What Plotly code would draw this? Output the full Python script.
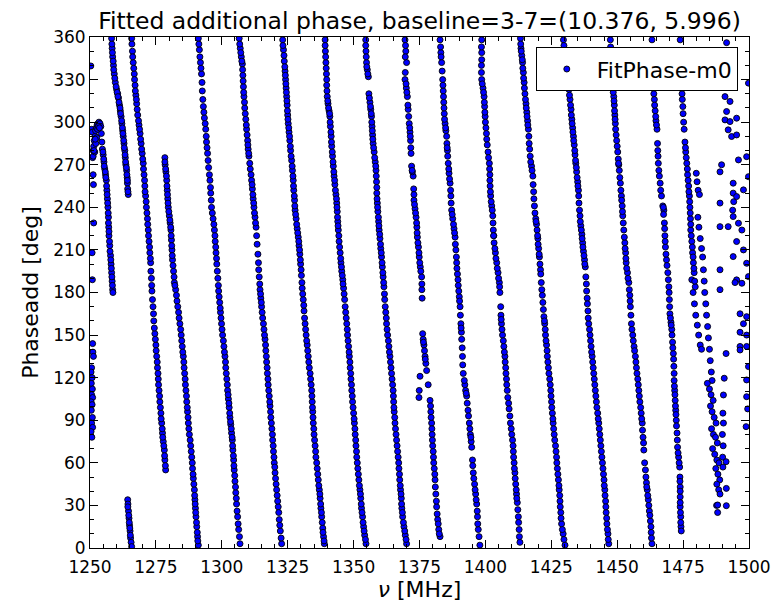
import plotly.graph_objects as go

# ---- data (frequency MHz, phase deg) ----
edge_scatter = [(1250.3,339.6),(1250.6,295),(1250.9,293),(1251.2,280),(1251.0,275),(1251.2,263),(1251.3,256),
    (1251.4,229),(1250.8,208),(1250.9,189),(1251.0,144),(1251.1,138),(1251.3,135),(1250.6,127),(1250.4,124),
    (1250.8,120),(1250.5,116),(1250.9,112),(1250.6,108),(1251.0,106),(1250.4,103),(1250.8,101),(1250.5,97),
    (1250.9,92),(1250.6,88),(1251.0,85),(1250.4,82),(1250.7,78)]

stripe_a = [(1251.2,276),(1251.4,283),(1251.6,287),(1251.9,290),(1252.1,294),(1252.4,296),(1252.7,298),(1253.0,299),
    (1253.4,300),(1253.8,299),(1254.1,297),(1254.3,292),(1252.2,285),(1251.8,279),(1252.6,289),(1254.5,286),
    (1254.7,281),(1255.0,277),(1255.3,272),(1255.6,267),(1255.9,263),(1256.2,259),(1256.4,252),(1256.6,246),
    (1256.8,240),(1257.0,233),(1257.1,226),(1257.2,220),(1257.5,213),(1257.8,206),(1258.0,200),(1258.2,194),
    (1258.4,188),(1258.6,182),(1258.7,180),
    (1254.9,279),(1255.2,274),(1255.4,269),(1255.8,265),(1256.0,261),(1256.3,255),(1256.5,249),(1256.7,243),
    (1256.9,236),(1257.0,229),(1257.2,223),(1257.4,216),(1257.6,209),(1257.9,203),(1258.1,197),(1258.3,191),
    (1258.5,185),(1252.9,295),(1253.2,297),(1253.6,296),(1252.0,288),(1251.5,280)]

stripe_b = [(1258.2,359),(1258.4,352),(1258.6,346),(1258.9,340),(1259.2,334),(1259.6,328),(1260.1,323),(1260.5,320),
    (1260.8,317),(1261.2,312),(1261.5,308),(1261.8,304),(1262.1,299),(1262.4,294),(1262.6,290),(1262.9,285),
    (1263.2,280),(1263.4,275),(1263.6,270),(1263.9,266),(1264.1,261),(1264.2,257),(1264.3,253),(1264.5,249),
    (1258.3,355),(1258.5,349),(1258.8,343),(1259.0,337),(1259.4,331),(1259.9,325),(1260.3,321),(1260.6,318),
    (1261.0,314),(1261.4,310),(1261.6,306),(1262.0,301),(1262.3,296),(1262.5,292),(1262.8,287),(1263.0,282),
    (1263.3,277),(1263.5,272),(1263.8,268),(1264.0,263),(1264.2,259),(1264.4,251)]

stripe_e = [(1264.3,34),(1264.4,31),(1264.6,26),(1264.8,21),(1265.0,16),(1265.2,12),(1265.4,7),(1265.6,4),(1265.8,1),
    (1264.35,29),(1264.7,23),(1264.9,18),(1265.1,14),(1265.3,9)]

stripe_c = [(1265.8,359),(1266.1,350),(1266.4,342),(1266.8,334),(1267.1,326),(1267.4,319),(1267.7,313),(1268.1,305),
    (1268.6,298),(1269.0,292),(1269.4,285),(1269.8,278),(1270.2,271),(1270.5,263),(1270.8,255),(1271.1,248),
    (1271.4,240),(1271.8,232),(1272.1,224),(1272.4,216),(1272.7,208),(1273.0,201),(1273.3,190),(1273.5,181),
    (1273.9,170),(1274.2,160),(1274.6,151),(1275.0,143),(1275.3,135),(1275.6,127),(1275.9,119),(1276.2,111),
    (1276.5,103),(1276.9,95),(1277.2,88),(1277.5,81),(1277.8,75),(1278.2,69),(1278.4,62),(1278.7,55),
    (1265.9,355),(1266.2,346),(1266.6,338),(1266.9,330),(1267.2,322),(1267.6,316),(1267.9,309),(1268.4,301),
    (1268.8,295),(1269.2,288),(1269.6,281),(1270.0,274),(1270.3,267),(1270.7,259),(1270.9,251),(1271.3,244),
    (1271.6,236),(1271.9,228),(1272.2,220),(1272.6,212),(1272.9,204),(1273.1,195),(1273.4,185),(1273.7,175),
    (1274.1,165),(1274.4,155),(1274.8,147),(1275.1,139),(1275.5,131),(1275.8,123),(1276.0,115),(1276.4,107),
    (1276.7,99),(1277.0,91),(1277.4,84),(1277.6,78),(1278.0,72),(1278.3,65),(1278.6,58)]

stripe_d = [(1278.4,275),(1278.5,270),(1278.8,265),(1279.1,259),(1279.3,252),(1279.5,246),(1279.7,240),(1280.1,234),
    (1280.4,229),(1280.7,224),(1280.9,217),(1281.1,210),(1281.3,203),(1281.7,195),(1282.0,187),(1282.5,182),
    (1283.0,174),(1283.6,166),(1284.1,158),(1284.6,150),(1285.0,142),(1285.4,135),(1285.7,127),(1286.1,119),
    (1286.4,111),(1286.7,103),(1287.0,96),(1287.3,88),(1287.7,80),(1288.2,72),(1288.6,64),(1288.9,56),
    (1289.2,49),(1289.6,41),(1289.8,34),(1290.0,28),(1290.2,22),(1290.5,15),(1290.8,8),(1291.1,2),
    (1278.4,272),(1278.7,267),(1279.0,262),(1279.2,255),(1279.4,249),(1279.6,243),(1279.9,237),(1280.3,231),
    (1280.6,226),(1280.8,220),(1281.0,213),(1281.2,206),(1281.5,199),(1281.9,191),(1282.2,185),(1282.8,178),
    (1283.3,170),(1283.8,162),(1284.4,154),(1284.8,146),(1285.2,138),(1285.6,131),(1285.9,123),(1286.2,115),
    (1286.6,107),(1286.9,99),(1287.2,92),(1287.5,84),(1288.0,76),(1288.4,68),(1288.8,60),(1289.1,52),
    (1289.4,45),(1289.7,37),(1289.9,31),(1290.1,25),(1290.4,18),(1290.7,11),(1290.9,5)]

stripe_f = [(1291.1,359),(1291.5,351),(1291.9,342),(1292.3,334),(1292.6,322),(1293.0,311),(1293.4,303),(1293.9,295),
    (1294.2,286),(1294.6,278),(1295.0,268),(1295.5,259),(1295.8,250),(1296.1,240),(1296.7,232),(1297.2,224),
    (1297.5,216),(1297.8,208),(1298.1,200),(1298.5,190),(1298.8,181),(1299.2,173),(1299.5,166),(1299.9,158),
    (1300.3,150),(1300.8,142),(1301.2,135),(1301.5,127),(1301.9,119),(1302.2,111),(1302.5,105),(1302.8,99),
    (1303.1,92),(1303.4,87),(1303.7,81),(1304.0,76),(1304.2,69),(1304.5,62),(1304.7,55),(1305.0,47),
    (1305.3,39),(1305.6,31),(1306.0,22),(1306.4,13),(1306.9,3),
    (1291.3,355),(1291.7,346),(1292.1,338),(1292.5,328),(1292.8,316),(1293.2,307),(1293.7,299),(1294.1,290),
    (1294.4,282),(1294.8,273),(1295.3,263),(1295.7,254),(1296.0,245),(1296.4,236),(1297.0,228),(1297.4,220),
    (1297.7,212),(1298.0,204),(1298.3,195),(1298.7,185),(1299.0,177),(1299.4,169),(1299.7,162),(1300.1,154),
    (1300.6,146),(1301.0,138),(1301.4,131),(1301.7,123),(1302.1,115),(1302.4,108),(1302.7,102),(1303.0,95),
    (1303.3,89),(1303.6,84),(1303.9,78),(1304.1,72),(1304.4,65),(1304.6,58),(1304.9,51),(1305.2,43),
    (1305.5,35),(1305.8,26),(1306.2,17),(1306.7,8)]

stripe_g = [(1306.6,359),(1307.0,352),(1307.4,346),(1307.8,341),(1308.0,333),(1308.2,325),(1308.4,318),(1308.7,310),
    (1309.1,302),(1309.4,295),(1309.8,287),(1310.0,281),(1310.3,276),(1310.8,267),(1311.3,259),(1311.6,253),
    (1311.9,246),(1312.2,240),(1312.6,233),(1313.0,226),(1313.4,214),(1313.9,201),(1314.2,191),(1314.5,182),
    (1314.8,176),(1315.1,170),(1315.5,162),(1316.0,154),(1316.4,147),(1316.7,139),(1317.0,131),(1317.3,123),
    (1317.6,115),(1318.0,107),(1318.3,100),(1318.6,92),(1319.0,84),(1319.3,76),(1319.6,68),(1319.9,60),
    (1320.2,53),(1320.6,45),(1321.0,37),(1321.4,29),(1321.8,20),(1322.2,12),(1322.7,3),
    (1306.8,355),(1307.2,349),(1307.6,343),(1307.9,337),(1308.1,329),(1308.3,321),(1308.6,314),(1308.9,306),
    (1309.3,298),(1309.6,291),(1309.9,284),(1310.2,278),(1310.6,271),(1311.1,263),(1311.5,256),(1311.8,249),
    (1312.1,243),(1312.4,236),(1312.8,229),(1313.2,220),(1313.7,207),(1314.0,196),(1314.4,186),(1314.7,179),
    (1315.0,173),(1315.3,166),(1315.8,158),(1316.2,150),(1316.6,143),(1316.9,135),(1317.2,127),(1317.5,119),
    (1317.8,111),(1318.2,103),(1318.5,96),(1318.8,88),(1319.2,80),(1319.5,72),(1319.8,64),(1320.1,57),
    (1320.4,49),(1320.8,41),(1321.2,33),(1321.6,25),(1322.0,16),(1322.5,7)]

stripe_h = [(1323.1,358),(1323.4,351),(1323.7,343),(1324.0,336),(1324.2,330),(1324.4,324),(1324.6,318),(1324.8,312),
    (1325.0,305),(1325.2,299),(1325.5,293),(1325.8,287),(1326.1,280),(1326.5,273),(1326.8,266),(1327.1,259),
    (1327.3,252),(1327.6,245),(1327.8,238),(1328.2,232),(1328.6,225),(1329.0,219),(1329.3,213),(1329.6,207),
    (1329.9,200),(1330.2,192),(1330.5,183),(1330.9,175),(1331.2,167),(1331.6,158),(1332.0,150),(1332.4,143),
    (1332.8,135),(1333.2,127),(1333.7,119),(1334.1,111),(1334.3,103),(1334.5,96),(1334.7,88),(1335.0,80),
    (1335.4,72),(1335.7,64),(1336.2,56),(1336.6,48),(1337.0,41),(1337.3,35),(1337.6,28),(1337.9,22),
    (1338.3,14),(1338.6,8),(1338.9,3),
    (1323.2,354),(1323.6,347),(1323.9,339),(1324.1,333),(1324.3,327),(1324.5,321),(1324.7,315),(1324.9,308),
    (1325.1,302),(1325.4,296),(1325.7,290),(1326.0,283),(1326.3,276),(1326.7,269),(1327.0,262),(1327.2,255),
    (1327.5,248),(1327.7,241),(1328.0,235),(1328.4,228),(1328.8,222),(1329.2,216),(1329.5,210),(1329.8,203),
    (1330.1,196),(1330.4,187),(1330.7,179),(1331.1,171),(1331.4,162),(1331.8,154),(1332.2,146),(1332.6,139),
    (1333.0,131),(1333.5,123),(1333.9,115),(1334.2,107),(1334.4,99),(1334.6,92),(1334.9,84),(1335.2,76),
    (1335.6,68),(1336.0,60),(1336.4,52),(1336.8,44),(1337.2,38),(1337.5,31),(1337.8,25),(1338.1,18),
    (1338.4,11),(1338.8,5)]

stripe_i = [(1339.2,358),(1339.3,350),(1339.5,342),(1339.7,334),(1339.8,326),(1340.0,318),(1340.3,313),(1340.7,308),
    (1341.0,304),(1341.2,297),(1341.5,290),(1341.7,283),(1342.0,276),(1342.3,269),(1342.6,262),(1342.9,256),
    (1343.3,249),(1343.6,243),(1343.8,237),(1344.0,230),(1344.2,224),(1344.5,216),(1344.9,208),(1345.2,201),
    (1345.5,195),(1345.9,189),(1346.2,183),(1346.6,175),(1347.0,166),(1347.4,158),(1347.7,150),(1348.1,142),
    (1348.4,135),(1348.7,127),(1349.0,119),(1349.3,111),(1349.6,103),(1350.0,95),(1350.3,88),(1350.6,80),
    (1350.9,72),(1351.2,64),(1351.6,56),(1352.0,48),(1352.4,41),(1352.7,35),(1353.0,28),(1353.4,22),
    (1353.8,15),(1354.2,9),(1354.7,3),
    (1339.2,354),(1339.4,346),(1339.6,338),(1339.8,330),(1339.9,322),(1340.2,315),(1340.5,310),(1340.9,306),
    (1341.1,300),(1341.4,293),(1341.6,286),(1341.9,279),(1342.2,272),(1342.5,265),(1342.8,259),(1343.1,252),
    (1343.5,246),(1343.7,240),(1343.9,233),(1344.1,227),(1344.4,220),(1344.7,212),(1345.1,204),(1345.4,198),
    (1345.7,192),(1346.0,186),(1346.4,179),(1346.8,170),(1347.2,162),(1347.6,154),(1347.9,146),(1348.3,138),
    (1348.6,131),(1348.9,123),(1349.2,115),(1349.5,107),(1349.8,99),(1350.2,91),(1350.5,84),(1350.8,76),
    (1351.1,68),(1351.4,60),(1351.8,52),(1352.2,44),(1352.6,38),(1352.9,31),(1353.2,25),(1353.6,18),
    (1354.0,12),(1354.5,6)]

stripe_j = [(1354.6,358),(1354.7,350),(1354.9,342),(1355.2,337),(1355.6,332),(1355.8,320),(1356.2,314),(1356.5,309),
    (1356.8,304),(1357.0,297),(1357.2,291),(1357.4,285),(1357.8,279),(1358.2,272),(1358.5,266),(1358.7,258),
    (1358.8,250),(1359.0,243),(1359.2,237),(1359.5,230),(1359.7,224),(1360.0,218),(1360.3,211),(1360.6,205),
    (1360.9,198),(1361.2,191),(1361.5,184),(1361.8,175),(1362.2,166),(1362.5,158),(1362.9,150),(1363.4,142),
    (1363.8,135),(1364.2,127),(1364.6,119),(1365.0,111),(1365.2,103),(1365.4,96),(1365.7,88),(1366.1,80),
    (1366.5,72),(1366.9,64),(1367.2,56),(1367.5,48),(1367.8,41),(1368.1,35),(1368.3,28),(1368.6,22),
    (1369.1,15),(1369.6,9),(1370.1,3),
    (1354.6,354),(1354.8,346),(1355.0,339),(1355.4,334),(1356.0,317),(1356.4,311),(1356.7,306),(1356.9,300),
    (1357.1,294),(1357.3,288),(1357.6,282),(1358.0,275),(1358.4,269),(1358.6,262),(1358.8,254),(1358.9,246),
    (1359.1,240),(1359.4,233),(1359.6,227),(1359.9,221),(1360.2,214),(1360.5,208),(1360.8,201),(1361.1,194),
    (1361.4,187),(1361.7,179),(1362.0,170),(1362.4,162),(1362.7,154),(1363.2,146),(1363.6,138),(1364.0,131),
    (1364.4,123),(1364.8,115),(1365.1,107),(1365.3,99),(1365.6,92),(1365.9,84),(1366.3,76),(1366.7,68),
    (1367.1,60),(1367.4,52),(1367.7,44),(1368.0,38),(1368.2,31),(1368.5,25),(1368.9,18),(1369.4,12),
    (1369.9,6)]

stripe_k = [(1369.5,358),(1369.8,350),(1370.1,342),(1369.6,335),(1369.5,330),(1370.0,324),(1370.4,318),(1370.7,309),
    (1371.1,299),(1371.4,293),(1371.6,287),(1371.8,278),(1372.0,269),(1372.6,262),(1372.8,253),(1372.9,245),
    (1373.3,239),(1373.7,233),(1374.0,226),(1374.2,219),(1374.6,212),(1374.9,205),(1375.3,198),(1375.8,191),
    (1375.9,182),(1376.0,176),(1376.2,151),(1376.7,143),(1377.1,135),(1377.4,130),(1377.7,125),(1375.2,121),
    (1374.9,111),(1374.8,106),(1378.3,115),(1379.0,104),(1379.3,96),(1379.6,88),(1379.8,80),(1380.0,72),
    (1380.3,64),(1380.6,56),(1380.9,48),(1381.2,38),(1381.5,29),(1381.9,20),(1382.3,13),(1382.8,8),
    (1369.7,354),(1370.2,321),(1370.9,304),(1371.5,290),(1372.3,265),(1373.1,242),(1373.9,229),(1374.4,215),
    (1375.1,201),(1376.4,147),(1376.9,139),(1379.4,92),(1379.9,76),(1380.4,60),(1381.0,43),(1381.7,24),
    (1382.5,10)]
stripe_k_more = [(1369.6,346),(1369.9,327),(1370.6,312),(1371.3,296),(1371.7,282),(1372.2,266),(1372.9,249),
    (1373.5,236),(1374.1,222),(1374.8,208),(1375.5,195),(1375.9,186),(1376.5,145),(1377.2,133),(1379.2,100),
    (1379.7,84),(1380.2,68),(1380.8,52),(1381.4,33),(1382.1,17)]

stripe_l = [(1382.8,358),(1383.1,349),(1383.4,342),(1383.8,330),(1384.0,322),(1384.2,314),(1384.4,306),(1384.7,299),
    (1385.0,294),(1385.3,290),(1385.6,280),(1385.9,271),(1386.2,264),(1386.6,257),(1386.9,248),(1387.2,238),
    (1387.6,232),(1388.1,225),(1388.5,219),(1388.8,210),(1389.1,201),(1389.4,193),(1389.7,185),(1390.1,177),
    (1390.4,170),(1390.7,158),(1391.0,147),(1391.3,135),(1391.6,123),(1392.2,115),(1392.9,107),(1393.4,97),
    (1393.9,88),(1394.3,80),(1394.8,71),(1395.1,62),(1395.4,53),(1395.9,45),(1396.3,38),(1396.7,31),
    (1397.0,22),(1397.3,13),(1397.9,2),
    (1383.0,353),(1383.6,336),(1384.1,318),(1384.5,302),(1385.4,285),(1385.7,276),(1386.4,260),(1387.0,243),
    (1387.9,228),(1388.6,214),(1389.2,197),(1389.9,181),(1390.5,164),(1390.9,152),(1391.4,129),(1392.5,111),
    (1393.1,102),(1394.1,84),(1394.6,75),(1395.6,49),(1396.5,34),(1397.1,17)]
stripe_l_more = [(1383.2,346),(1383.9,326),(1384.3,310),(1384.9,296),(1385.5,282),(1386.1,267),(1386.8,252),
    (1387.4,235),(1388.3,222),(1389.0,205),(1389.6,189),(1390.2,174),(1390.8,155),(1391.2,141),(1392.0,118),
    (1392.7,109),(1393.6,93),(1394.5,78),(1395.2,58),(1396.1,41),(1396.9,26),(1397.6,8)]

stripe_m = [(1398.6,358),(1398.6,349),(1398.5,340),(1398.6,330),(1399.1,324),(1399.5,318),(1399.7,311),(1399.9,304),
    (1400.2,296),(1400.5,288),(1401.0,279),(1401.5,271),(1401.7,263),(1401.8,255),(1402.0,248),(1402.4,241),
    (1402.8,234),(1403.0,224),(1403.3,215),(1403.8,208),(1404.3,201),(1404.8,194),(1405.3,187),(1405.5,180),
    (1405.8,170),(1406.1,158),(1406.5,150),(1407.0,142),(1407.4,135),(1407.7,127),(1408.0,119),(1408.3,111),
    (1408.8,102),(1409.3,93),(1409.8,84),(1410.3,76),(1410.6,68),(1410.9,60),(1411.2,53),(1411.5,45),
    (1411.8,38),(1412.1,32),(1412.5,22),(1412.8,13),(1413.1,4),
    (1398.5,353),(1398.5,335),(1399.3,321),(1399.8,307),(1400.4,292),(1401.2,275),(1401.7,259),(1402.2,244),
    (1402.9,229),(1403.2,220),(1404.0,204),(1405.0,190),(1405.9,164),(1406.3,154),(1407.2,138),(1407.8,123),
    (1408.5,106),(1409.5,88),(1410.5,72),(1411.0,56),(1411.7,41),(1412.3,27),(1412.9,8)]
stripe_m_more = [(1398.6,344),(1398.8,327),(1399.6,314),(1400.0,300),(1400.7,284),(1401.6,267),(1401.9,251),
    (1402.6,238),(1403.1,220),(1403.6,211),(1404.5,197),(1405.4,184),(1406.0,161),(1406.8,146),(1407.5,131),
    (1408.1,115),(1409.0,98),(1410.0,80),(1410.7,64),(1411.3,49),(1411.9,35),(1412.6,18)]

stripe_n = [(1413.3,359),(1413.5,352),(1413.8,347),(1414.1,342),(1414.4,335),(1414.7,328),(1415.0,320),(1415.4,313),
    (1415.7,307),(1416.0,301),(1416.3,295),(1416.6,285),(1417.0,276),(1417.5,269),(1418.0,262),(1418.3,251),
    (1418.6,241),(1419.1,232),(1419.6,224),(1419.9,218),(1420.2,211),(1420.5,205),(1420.9,196),(1421.2,187),
    (1421.6,178),(1422.0,168),(1422.5,158),(1422.8,150),(1423.2,143),(1423.5,135),(1423.9,127),(1424.4,119),
    (1424.8,111),(1425.1,103),(1425.4,95),(1425.7,88),(1426.1,80),(1426.6,72),(1427.0,64),(1427.3,56),
    (1427.7,48),(1428.0,41),(1428.3,33),(1428.6,25),(1428.9,17),(1429.5,10),(1430.2,2),
    (1413.4,355),(1414.0,344),(1414.5,331),(1415.2,316),(1415.8,304),(1416.5,290),(1417.2,272),(1418.1,256),
    (1418.8,236),(1419.4,228),(1420.0,214),(1420.7,200),(1421.4,182),(1422.2,163),(1422.7,154),(1423.4,139),
    (1424.1,123),(1424.9,107),(1425.6,91),(1426.3,76),(1427.1,60),(1427.9,44),(1428.4,29),(1429.2,13)]
stripe_n_more = [(1413.6,350),(1414.2,338),(1414.8,324),(1415.5,310),(1416.1,298),(1416.8,281),(1417.7,266),
    (1418.4,246),(1419.2,230),(1419.8,220),(1420.4,207),(1421.0,193),(1421.8,173),(1422.4,160),(1423.0,146),
    (1423.7,131),(1424.6,115),(1425.2,99),(1425.9,84),(1426.8,68),(1427.5,52),(1428.2,37),(1428.7,21),
    (1429.8,6)]

stripe_o = [(1429.6,358),(1430.0,351),(1430.4,344),(1430.8,337),(1431.1,332),(1431.4,327),(1431.7,323),(1432.1,316),
    (1432.5,309),(1432.8,302),(1433.1,296),(1433.4,290),(1433.7,284),(1434.0,277),(1434.3,271),(1434.6,265),
    (1435.0,258),(1435.3,252),(1435.5,243),(1435.9,234),(1436.2,227),(1436.6,221),(1436.9,215),(1437.2,209),
    (1437.6,203),(1437.9,198),(1438.3,186),(1438.6,176),(1438.9,167),(1439.2,158),(1439.7,150),(1440.1,142),
    (1440.5,135),(1440.9,127),(1441.3,119),(1441.7,111),(1442.1,103),(1442.6,95),(1443.0,88),(1443.4,80),
    (1443.8,72),(1444.2,64),(1444.6,56),(1445.0,48),(1445.3,41),(1445.6,33),(1445.8,25),(1446.1,17),
    (1446.5,10),(1446.8,3),
    (1429.8,354),(1430.6,340),(1431.2,330),(1431.9,319),(1432.6,305),(1433.2,293),(1433.9,280),(1434.5,268),
    (1435.1,255),(1435.7,238),(1436.4,224),(1437.0,212),(1437.7,200),(1438.4,181),(1439.0,162),(1439.9,146),
    (1440.7,131),(1441.5,115),(1442.3,99),(1443.2,84),(1444.0,68),(1444.8,52),(1445.4,37),(1446.0,21),
    (1446.6,6)]
stripe_o_more = [(1430.2,347),(1431.0,334),(1431.5,325),(1432.3,312),(1432.9,299),(1433.5,287),(1434.2,273),
    (1434.8,261),(1435.4,248),(1436.0,230),(1436.7,218),(1437.4,206),(1438.1,191),(1438.7,172),(1439.5,154),
    (1440.3,138),(1441.1,123),(1441.9,107),(1442.8,91),(1443.6,76),(1444.4,60),(1445.1,44),(1445.7,29),
    (1446.3,13)]

stripe_p = [(1447.4,358),(1447.6,349),(1447.8,340),(1448.1,332),(1448.4,325),(1448.7,318),(1448.9,312),(1449.1,305),
    (1449.3,299),(1449.6,291),(1450.0,283),(1450.4,274),(1450.8,266),(1451.2,257),(1451.6,248),(1451.9,241),
    (1452.1,234),(1452.5,224),(1452.9,215),(1453.2,208),(1453.4,201),(1453.9,194),(1454.4,187),(1454.8,178),
    (1455.0,170),(1455.4,158),(1455.9,150),(1456.4,142),(1456.9,135),(1457.3,127),(1457.8,119),(1458.2,111),
    (1458.6,103),(1459.1,95),(1459.5,88),(1459.8,78),(1460.1,69),(1460.7,55),(1461.1,46),(1461.4,41),
    (1461.8,34),(1462.2,26),(1462.6,19),(1462.9,11),(1463.2,3),
    (1447.5,353),(1447.9,336),(1448.5,321),(1449.0,308),(1449.4,295),(1450.2,279),(1450.6,270),(1451.4,252),
    (1452.0,237),(1452.7,219),(1453.3,204),(1454.1,190),(1454.9,174),(1455.6,154),(1456.6,139),(1457.5,123),
    (1458.4,107),(1459.3,91),(1460.0,74),(1460.9,50),(1461.6,37),(1462.4,23),(1463.0,7)]
stripe_p_more = [(1447.7,344),(1448.2,328),(1448.8,315),(1449.2,302),(1449.8,287),(1450.5,271),(1451.0,261),
    (1451.7,245),(1452.3,229),(1453.0,211),(1453.6,197),(1454.6,182),(1455.2,164),(1456.1,146),(1457.1,131),
    (1458.0,115),(1458.9,99),(1459.6,83),(1460.4,60),(1461.2,43),(1462.0,30),(1462.8,15)]

stripe_q = [(1463.2,358),(1463.3,349),(1463.5,340),(1463.7,332),(1463.8,325),(1464.1,316),(1464.4,308),(1464.7,301),
    (1465.1,295),(1465.3,285),(1465.5,276),(1465.8,266),(1466.3,257),(1466.8,248),(1467.3,241),(1467.7,238),
    (1467.9,229),(1468.1,220),(1468.3,212),(1468.7,203),(1469.2,194),(1469.6,184),(1469.8,175),(1470.0,165),
    (1470.4,159),(1470.7,154),(1471.0,145),(1471.3,137),(1471.5,128),(1471.6,118),(1471.8,111),(1472.0,104),
    (1472.2,97),(1472.4,90),(1472.7,81),(1472.9,71),(1473.3,64),(1473.7,57),(1473.8,50),(1473.9,43),
    (1473.9,36),(1473.9,29),(1474.1,22),(1474.2,15),(1474.3,12),
    (1463.4,345),(1463.9,320),(1464.6,304),(1465.4,280),(1466.0,262),(1467.5,240),(1468.0,225),(1468.5,207),
    (1469.4,189),(1469.9,170),(1470.5,157),(1471.1,141),(1471.6,123),(1471.9,108),(1472.3,94),(1472.8,76),
    (1473.5,60),(1473.9,40),(1474.0,25)]
stripe_q_more = [(1463.6,336),(1464.2,312),(1464.9,298),(1465.6,271),(1466.5,252),(1467.6,235),(1468.2,216),
    (1468.9,199),(1469.7,180),(1470.2,162),(1470.8,150),(1471.4,133),(1471.7,114),(1472.1,100),(1472.5,86),
    (1473.1,67),(1473.8,47),(1473.9,32),(1474.1,18)]

stripe_r = [(1473.9,358),(1474.0,350),(1474.2,340),(1474.5,325),(1474.7,316),(1475.0,306),(1475.4,295),(1475.7,286),
    (1476.0,279),(1476.4,271),(1476.7,263),(1477.1,255),(1477.4,248),(1477.6,240),(1477.8,232),(1477.9,224),
    (1478.3,216),(1478.6,208),(1478.9,201),(1479.2,194),(1479.6,184),(1478.3,189),(1478.8,180),(1479.3,172),
    (1479.8,164),(1480.4,157),(1480.9,150),(1481.5,143),(1482.0,140),
    (1480.0,264),(1480.3,258),(1480.7,252),(1481.2,249),(1480.6,233),(1481.0,226),(1481.5,218),(1482.0,211),
    (1482.4,205),(1482.7,196),(1483.0,188),(1483.2,180),(1483.6,172),(1483.9,164),(1484.3,156),(1484.6,148),
    (1485.0,140),(1485.3,132),(1485.7,124),(1486.0,118),
    (1484.2,116),(1485.0,112),(1485.6,108),(1486.4,104),(1485.4,100),(1486.0,96),(1486.8,92),(1487.5,88),
    (1485.8,84),(1486.5,80),(1487.3,78),(1488.0,74),(1486.2,70),(1487.0,66),(1487.8,62),(1488.6,60),
    (1487.4,56),(1488.2,52),(1488.9,48),(1487.8,45),(1488.5,41),(1489.0,38),(1487.7,30),(1488.1,25)]
stripe_r_more = [(1474.1,345),(1474.6,320),(1474.9,311),(1475.2,300),(1475.9,282),(1476.2,275),(1476.6,267),
    (1476.9,259),(1477.2,251),(1477.5,244),(1477.7,236),(1477.9,228),(1478.1,220),(1478.5,212),(1478.8,205),
    (1479.1,197),(1479.4,188)]

right_scatter = [(1491.5,356),(1490.3,327.5),(1492.1,325),(1490.9,318),(1492.8,314.6),(1491.5,307.5),(1490.9,301.6),
    (1492.8,300.4),(1495.3,302.8),(1492.1,294.6),(1493.4,289.9),(1495.3,291),(1499.8,327.5),(1496.0,273.4),
    (1489.6,270),(1489.0,265),(1494.0,257),(1499.1,275.7),(1494.0,250),(1494.2,244),(1493.8,238),(1495.3,247.6),
    (1489.0,243),(1499.8,261.6),(1497.9,252.3),(1494.0,233.5),(1496.0,228.8),(1489.0,226.4),(1492.1,226.4),
    (1497.3,224),(1495.3,215.9),(1497.9,210),(1494.0,205.3),(1499.1,200.6),(1489.0,196),(1495.3,188.9),
    (1497.3,186.5),(1499.8,191.2),(1489.0,182),(1494.7,187),(1491.3,137),(1490.6,119.6),(1490.3,107.8),
    (1490.1,95),(1490.3,88),(1489.9,80),(1490.2,72),(1490.0,64),(1490.1,57),(1491.3,60.8),(1491.4,42),
    (1491.4,29.8),(1488.1,30.3),(1496.6,165),(1496.6,152),(1496.6,142),(1497.9,158),(1499.1,163),(1499.1,150),
    (1499.1,142),(1496.6,139.5),(1499.8,127.8),(1499.1,118.4),(1499.1,106.6),(1498.9,85.5),(1499.5,98)]

groups = [edge_scatter, stripe_a, stripe_b, stripe_e, stripe_c, stripe_d, stripe_f, stripe_g, stripe_h,
          stripe_i, stripe_j, stripe_k, stripe_k_more, stripe_l, stripe_l_more, stripe_m, stripe_m_more,
          stripe_n, stripe_n_more, stripe_o, stripe_o_more, stripe_p, stripe_p_more, stripe_q, stripe_q_more,
          stripe_r, stripe_r_more, right_scatter]

freq = [f for g in groups for f, p in g]
phase = [p for g in groups for f, p in g]

x_ticks = [1250, 1275, 1300, 1325, 1350, 1375, 1400, 1425, 1450, 1475, 1500]
y_ticks = [0, 30, 60, 90, 120, 150, 180, 210, 240, 270, 300, 330, 360]

FONT = "DejaVu Sans"

fig = go.Figure()
fig.add_trace(go.Scatter(
    x=freq, y=phase, mode="markers", name="FitPhase-m0",
    marker=dict(size=6, color="#0000ff", line=dict(color="black", width=0.9)),
))

axis_common = dict(
    showline=True, linecolor="black", linewidth=1, mirror="allticks",
    ticks="inside", ticklen=8, tickwidth=1, tickcolor="black",
    showgrid=False, zeroline=False, automargin=False,
    tickfont=dict(family=FONT, size=17, color="black"),
)

fig.update_xaxes(
    range=[1250, 1500], tickvals=x_ticks, ticktext=[str(v) for v in x_ticks],
    minor=dict(ticks="inside", ticklen=4, tickcolor="black", dtick=5, tick0=1250, showgrid=False),
    title=dict(text="<i>ν</i> [MHz]", font=dict(family=FONT, size=22, color="black"), standoff=2),
    ticklabelstandoff=4,
    **axis_common,
)
fig.update_yaxes(
    range=[0, 360], tickvals=y_ticks, ticktext=[str(v) for v in y_ticks],
    minor=dict(ticks="inside", ticklen=4, tickcolor="black", dtick=10, tick0=0, showgrid=False),
    title=dict(text="Phaseadd [deg]", font=dict(family=FONT, size=22, color="black"), standoff=8),
    **axis_common,
)

fig.update_layout(
    width=774, height=603,
    margin=dict(l=90, r=25, t=37, b=55),
    paper_bgcolor="white", plot_bgcolor="white",
    font=dict(family=FONT, color="black"),
    title=dict(text="Fitted additional phase, baseline=3-7=(10.376, 5.996)",
               x=0.5, xref="paper", xanchor="center",
               y=0.966, yref="container", yanchor="middle",
               font=dict(family=FONT, size=23.5, color="black")),
    showlegend=True,
    legend=dict(x=0.983, y=0.98, xanchor="right", yanchor="top",
                bgcolor="white", bordercolor="black", borderwidth=1,
                itemwidth=50,
                font=dict(family=FONT, size=22, color="black")),
)

fig.write_html("out.html")
